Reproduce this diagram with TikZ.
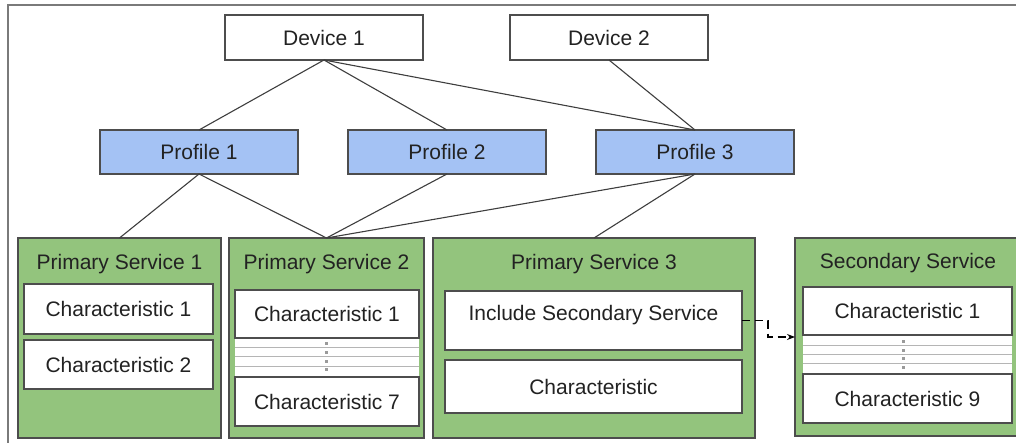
\documentclass[tikz,border=0pt]{standalone}
\usepackage{fontspec}
\setmainfont{Liberation Sans}
\usetikzlibrary{arrows.meta}
\definecolor{txt}{HTML}{222222}
\definecolor{edge}{HTML}{4D4D4D}
\definecolor{profblue}{HTML}{A4C2F4}
\definecolor{svcgreen}{HTML}{93C47D}
\definecolor{frame}{HTML}{7A7A7A}
\definecolor{stripe}{HTML}{B5B5B5}
\definecolor{dotc}{HTML}{9A9A9A}
\tikzset{
  box/.style={draw=edge, line width=1.2pt, inner sep=0pt, outer sep=0pt,
    anchor=north west, text=txt, font=\fontsize{21}{25}\selectfont},
  whitebox/.style={box, fill=white},
  profbox/.style={box, fill=profblue},
  svcbox/.style={box, fill=svcgreen},
  title/.style={text=txt, inner sep=0pt, font=\fontsize{21}{25}\selectfont},
  link/.style={draw=edge!80!black, line width=1.1pt},
}
\begin{document}
\begin{tikzpicture}[x=1pt,y=-1pt]
\useasboundingbox (0,0) rectangle (1016,443);

% outer frame (only the top and left edges are inside the page)
\draw[frame, line width=2pt] (8,445) -- (8,5.5) -- (1018,5.5);

% devices
\node[whitebox, minimum width=198pt, minimum height=45pt] (d1) at (225,15) {Device 1};
\node[whitebox, minimum width=198pt, minimum height=45pt] (d2) at (510,15) {Device 2};

% profiles
\node[profbox, minimum width=198pt, minimum height=44pt] (p1) at (100,130) {Profile 1};
\node[profbox, minimum width=198pt, minimum height=44pt] (p2) at (348,130) {Profile 2};
\node[profbox, minimum width=198pt, minimum height=44pt] (p3) at (596,130) {Profile 3};

% services
\node[svcbox, minimum width=203pt, minimum height=200pt] (s1) at (18,238) {};
\node[svcbox, minimum width=195pt, minimum height=200pt] (s2) at (229,238) {};
\node[svcbox, minimum width=322pt, minimum height=200pt] (s3) at (433,238) {};
\node[svcbox, minimum width=222pt, minimum height=198pt] (sec) at (795,238) {};

\node[title] (s1t) at (119.5,264) {Primary Service 1};
\node[title] (s2t) at (326.5,264) {Primary Service 2};
\node[title] (s3t) at (594,264) {Primary Service 3};
\node[title] (sect) at (908,263) {Secondary Service};

% Primary Service 1 characteristics
\node[whitebox, minimum width=189pt, minimum height=50pt] (c11) at (24,284) {Characteristic 1};
\node[whitebox, minimum width=189pt, minimum height=49pt] (c12) at (24,340) {Characteristic 2};

% Primary Service 2: first and last characteristic with elided rows
\fill[white] (235,338) rectangle (419,377);
\foreach \yy in {347,356,366} \draw[stripe, line width=1pt] (235,\yy) -- (419,\yy);
\foreach \yy in {343,352,361,369} \fill[dotc] (324.5,\yy-1.5) rectangle (327.5,\yy+1.5);
\node[whitebox, minimum width=184pt, minimum height=48pt] (c21) at (235,290) {Characteristic 1};
\node[whitebox, minimum width=184pt, minimum height=49pt] (c27) at (235,377) {Characteristic 7};

% Primary Service 3
\node[whitebox, minimum width=297pt, minimum height=59pt] (inc) at (445,291) {};
\node[title] (inct) at (593.5,315) {Include Secondary Service};
\node[whitebox, minimum width=297pt, minimum height=53pt] (c3) at (445,360) {Characteristic};

% Secondary Service: first and last characteristic with elided rows
\fill[white] (803,335) rectangle (1012,374);
\foreach \yy in {345,354,363} \draw[stripe, line width=1pt] (803,\yy) -- (1012,\yy);
\foreach \yy in {341,350,358,367} \fill[dotc] (901.5,\yy-1.5) rectangle (904.5,\yy+1.5);
\node[whitebox, minimum width=209pt, minimum height=48pt] (sc1) at (803,287) {Characteristic 1};
\node[whitebox, minimum width=209pt, minimum height=49pt] (sc9) at (803,374) {Characteristic 9};

% device -> profile links
\draw[link] (d1.south) -- (p1.north);
\draw[link] (d1.south) -- (p2.north);
\draw[link] (d1.south) -- (p3.north);
\draw[link] (d2.south) -- (p3.north);

% profile -> service links
\draw[link] (p1.south) -- (s1.north);
\draw[link] (p1.south) -- (s2.north);
\draw[link] (p2.south) -- (s2.north);
\draw[link] (p3.south) -- (s2.north);
\draw[link] (p3.south) -- (s3.north);

% include reference
\draw[black, line width=1.2pt, dash pattern=on 8pt off 5pt,
  -{Stealth[length=8pt,width=6pt]}]
  (inc.east) -- ++(26,0) |- (sec.west);
\end{tikzpicture}
\end{document}
